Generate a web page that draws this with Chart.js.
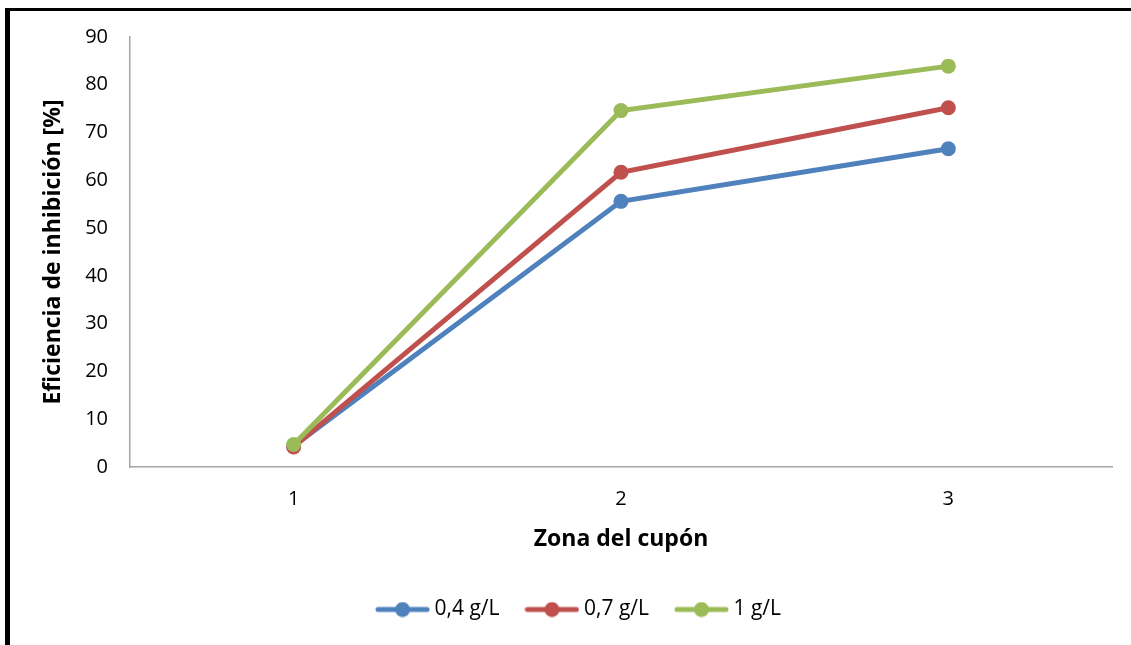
<!DOCTYPE html>
<html>
<head>
<meta charset="utf-8">
<script src="https://cdn.jsdelivr.net/npm/chart.js@4/dist/chart.umd.min.js"></script>
<style>
  html, body { margin: 0; padding: 0; background: #fff; }
  body { width: 1131px; height: 645px; position: relative; overflow: hidden; }
  #frame {
    position: absolute; left: 5px; top: 8px; width: 1200px; height: 700px;
    border-left: 5px solid #000; border-top: 3px solid #000; box-sizing: border-box;
  }
  #wrap { position: absolute; left: 0; top: 0; width: 1131px; height: 645px; }
</style>
</head>
<body>
<div id="frame"></div>
<div id="wrap"><canvas id="chart" width="1131" height="645"></canvas></div>
<script>
// Zonas del cupón y eficiencia de inhibición (%) por concentración
const zonas = ['1', '2', '3'];
const serie04 = [4.4, 55.6, 66.6];
const serie07 = [4.2, 61.7, 75.2];
const serie10 = [4.7, 74.6, 83.9];
const nombres = ['0,4 g/L', '0,7 g/L', '1 g/L'];
const colores = ['#4F81BD', '#C0504D', '#9BBB59'];
const yTicks = [0, 10, 20, 30, 40, 50, 60, 70, 80, 90];

const FONT = "'Open Sans', 'DejaVu Sans', sans-serif";

// small line-with-marker icon for each legend entry
function legendIcon(color) {
  const c = document.createElement('canvas');
  c.width = 55; c.height = 16;
  const g = c.getContext('2d');
  g.strokeStyle = color; g.lineWidth = 5; g.lineCap = 'round';
  g.beginPath(); g.moveTo(3, 8); g.lineTo(52, 8); g.stroke();
  g.fillStyle = color;
  g.beginPath(); g.arc(27.5, 8, 7.5, 0, Math.PI * 2); g.fill();
  return c;
}
const iconos = colores.map(legendIcon);

const series = [serie04, serie07, serie10];
const datasets = series.map((vals, i) => ({
  label: nombres[i],
  data: vals,
  borderColor: colores[i],
  backgroundColor: colores[i],
  borderWidth: 5,
  pointRadius: 7.5,
  pointHoverRadius: 7.5,
  pointBorderWidth: 0,
  pointBackgroundColor: colores[i],
  tension: 0,
  fill: false,
  order: 3 - i
}));

// nudges the legend block horizontally after layout
const legendShift = {
  id: 'legendShift',
  afterLayout(chart) {
    const lg = chart.legend;
    if (lg) { lg.left += 20; lg.right += 20; }
  }
};

new Chart(document.getElementById('chart'), {
  type: 'line',
  data: { labels: zonas, datasets },
  plugins: [legendShift],
  options: {
    responsive: false,
    animation: false,
    events: [],
    layout: { padding: { left: 10, right: 19, top: 37, bottom: 15 } },
    plugins: {
      tooltip: { enabled: false },
      legend: {
        position: 'bottom',
        labels: {
          usePointStyle: true,
          pointStyleWidth: 43,
          padding: 31,
          color: '#000',
          font: { family: FONT, size: 21 },
          generateLabels(chart) {
            return chart.data.datasets.map((ds, i) => ({
              text: ds.label,
              pointStyle: iconos[i],
              fillStyle: ds.borderColor,
              strokeStyle: ds.borderColor,
              lineWidth: 0,
              hidden: false,
              datasetIndex: i,
              fontColor: '#000'
            }));
          }
        }
      }
    },
    scales: {
      x: {
        offset: true,
        grid: { display: false, drawTicks: false, offset: true },
        border: { display: true, color: '#A6A6A6', width: 1.5 },
        ticks: { color: '#000', padding: 20, font: { family: FONT, size: 20 } },
        title: {
          display: true, text: 'Zona del cupón', color: '#000',
          font: { family: FONT, size: 23, weight: 'bold' },
          padding: { top: 0, bottom: 15 }
        },
        afterFit(scale) { scale.height = 101; }
      },
      y: {
        min: 0, max: 90,
        afterBuildTicks(scale) { scale.ticks = yTicks.map(v => ({ value: v })); },
        grid: { display: false, drawTicks: false },
        border: { display: true, color: '#A6A6A6', width: 1.5 },
        ticks: { color: '#000', padding: 22, font: { family: FONT, size: 20 } },
        title: {
          display: true, text: 'Eficiencia de inhibición [%]', color: '#000',
          font: { family: FONT, size: 23, weight: 'bold' },
          padding: { top: 30, bottom: 0 }
        },
        afterFit(scale) { scale.width = 120; }
      }
    }
  }
});
</script>
</body>
</html>
